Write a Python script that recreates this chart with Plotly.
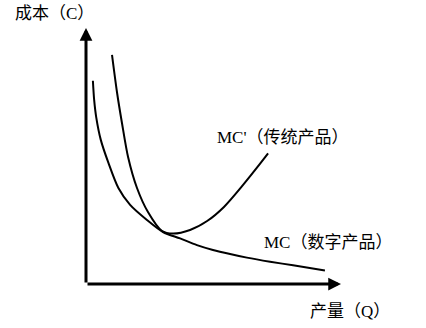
import plotly.graph_objects as go

# Digital product marginal cost curve MC
mc_q = [0.27, 0.32, 0.40, 0.58, 0.88, 1.27, 1.73, 2.39, 3.02, 3.69, 4.35, 4.98, 5.65, 6.31, 7.22, 8.12, 9.37]
mc_c = [7.94, 7.19, 6.52, 5.63, 4.73, 3.75, 3.09, 2.50, 2.03, 1.78, 1.52, 1.33, 1.17, 1.03, 0.87, 0.73, 0.53]

# Traditional product marginal cost curve MC'
mct_q = [1.02, 1.22, 1.41, 1.65, 2.00, 2.43, 2.97, 3.41, 4.08, 4.75, 5.41, 6.16, 6.82, 7.14]
mct_c = [8.95, 7.46, 6.29, 4.96, 3.75, 2.81, 2.08, 1.97, 2.11, 2.46, 3.01, 3.87, 4.69, 5.10]

labels = {
    "y": "成本（C）",
    "x": "产量（Q）",
    "mct": "MC'（传统产品）",
    "mc": "MC（数字产品）",
}

FONT = dict(family="Liberation Serif, Noto Sans CJK SC", size=17, color="#000")

fig = go.Figure()
fig.add_trace(go.Scatter(x=mc_q, y=mc_c, mode="lines",
                         line=dict(color="#000", width=2, shape="spline", smoothing=0.8),
                         hoverinfo="skip", showlegend=False))
fig.add_trace(go.Scatter(x=mct_q, y=mct_c, mode="lines",
                         line=dict(color="#000", width=2, shape="spline", smoothing=0.8),
                         hoverinfo="skip", showlegend=False))

# axes arrows
for tip, tail in [((0, 10), (0, 0)), ((10, 0), (0, 0))]:
    fig.add_annotation(x=tip[0], y=tip[1], ax=tail[0], ay=tail[1],
                       xref="x", yref="y", axref="x", ayref="y",
                       showarrow=True, arrowhead=2, arrowsize=0.85,
                       arrowwidth=3, arrowcolor="#000", text="")

fig.add_annotation(x=-2.86, y=10.55, text=labels["y"], showarrow=False,
                   xanchor="left", yanchor="middle", font=FONT)
fig.add_annotation(x=8.71, y=-1.09, text=labels["x"], showarrow=False,
                   xanchor="left", yanchor="middle", font=FONT)
fig.add_annotation(x=5.06, y=5.74, text=labels["mct"], showarrow=False,
                   xanchor="left", yanchor="middle", font=FONT)
fig.add_annotation(x=6.90, y=1.64, text=labels["mc"], showarrow=False,
                   xanchor="left", yanchor="middle", font=FONT)

fig.update_layout(
    width=426, height=328,
    margin=dict(l=0, r=0, t=0, b=0),
    paper_bgcolor="white", plot_bgcolor="white",
    xaxis=dict(range=[-86 / 25.5, 340 / 25.5], visible=False, fixedrange=True),
    yaxis=dict(range=[-44 / 25.6, 284 / 25.6], visible=False, fixedrange=True),
)

fig.write_html("out.html")
